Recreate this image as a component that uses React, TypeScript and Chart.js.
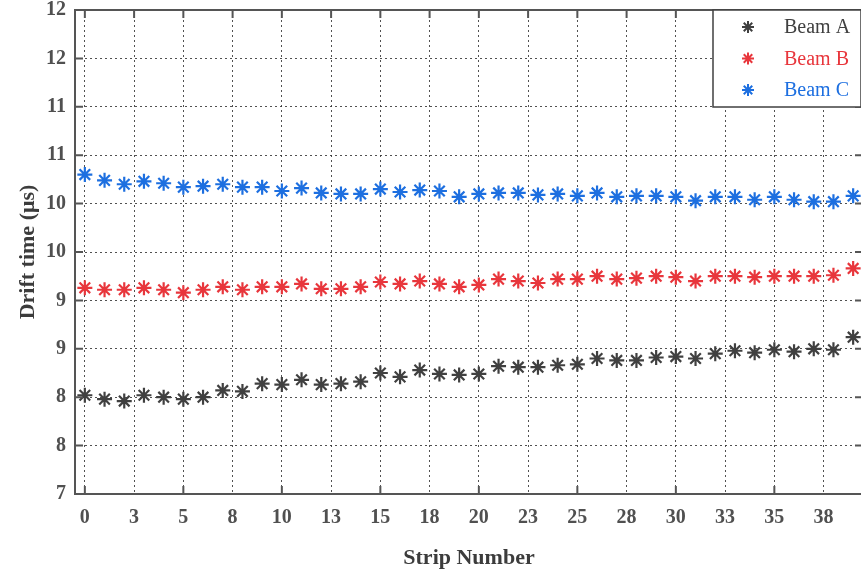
import React, { useEffect, useRef } from 'react';
import { Chart, registerables } from 'chart.js';

Chart.register(...registerables);

const strips = [0, 1, 2, 3, 4, 5, 6, 7, 8, 9, 10, 11, 12, 13, 14, 15, 16, 17, 18, 19, 20, 21, 22, 23, 24, 25, 26, 27, 28, 29, 30, 31, 32, 33, 34, 35, 36, 37, 38, 39];

const beamA = [8.02, 7.98, 7.96, 8.02, 8.0, 7.98, 8.0, 8.07, 8.06, 8.14, 8.13, 8.18, 8.13, 8.14, 8.16, 8.25, 8.21, 8.28, 8.24, 8.23, 8.24, 8.32, 8.31, 8.31, 8.33, 8.34, 8.4, 8.38, 8.38, 8.41, 8.42, 8.4, 8.45, 8.48, 8.46, 8.49, 8.47, 8.5, 8.49, 8.62];
const beamB = [9.13, 9.11, 9.11, 9.13, 9.11, 9.08, 9.11, 9.14, 9.11, 9.14, 9.14, 9.17, 9.12, 9.12, 9.14, 9.19, 9.17, 9.2, 9.17, 9.14, 9.16, 9.22, 9.2, 9.18, 9.22, 9.22, 9.25, 9.22, 9.23, 9.25, 9.24, 9.2, 9.25, 9.25, 9.24, 9.25, 9.25, 9.25, 9.26, 9.33];
const beamC = [10.3, 10.24, 10.2, 10.23, 10.21, 10.17, 10.18, 10.2, 10.17, 10.17, 10.13, 10.16, 10.11, 10.1, 10.1, 10.15, 10.12, 10.14, 10.13, 10.07, 10.1, 10.11, 10.11, 10.09, 10.1, 10.08, 10.11, 10.07, 10.08, 10.08, 10.07, 10.03, 10.07, 10.07, 10.04, 10.07, 10.04, 10.02, 10.02, 10.08];

const seriesNames = ['Beam A', 'Beam B', 'Beam C'];
const seriesColors = ['#404040', '#e8363c', '#1d6fe0'];

const xTickValues = [0, 2.5, 5, 7.5, 10, 12.5, 15, 17.5, 20, 22.5, 25, 27.5, 30, 32.5, 35, 37.5];
const xTickLabels = ['0', '3', '5', '8', '10', '13', '15', '18', '20', '23', '25', '28', '30', '33', '35', '38'];
const yTickValues = [7, 7.5, 8, 8.5, 9, 9.5, 10, 10.5, 11, 11.5, 12];
const yTickLabels = ['7', '8', '8', '9', '9', '10', '10', '11', '11', '12', '12'];

const xTitle = 'Strip Number';
const yTitle = 'Drift time (\u03bcs)';

const FONT = '"Liberation Serif", "Times New Roman", serif';

function drawStar(ctx: CanvasRenderingContext2D, x: number, y: number, r: number) {
  const d = r * Math.SQRT1_2;
  ctx.beginPath();
  ctx.moveTo(x - r, y); ctx.lineTo(x + r, y);
  ctx.moveTo(x, y - r); ctx.lineTo(x, y + r);
  ctx.moveTo(x - d, y - d); ctx.lineTo(x + d, y + d);
  ctx.moveTo(x - d, y + d); ctx.lineTo(x + d, y - d);
  ctx.stroke();
}

const framePlugin = {
  id: 'frameAndLegend',
  afterDraw(chart: any) {
    const ctx: CanvasRenderingContext2D = chart.ctx;
    const { left, right, top, bottom } = chart.chartArea;
    const xs = chart.scales.x;
    const ys = chart.scales.y;
    ctx.save();
    ctx.strokeStyle = '#555555';
    ctx.lineWidth = 2;
    ctx.beginPath();
    xTickValues.forEach((v) => {
      const px = xs.getPixelForValue(v);
      ctx.moveTo(px, top);
      ctx.lineTo(px, top + 8);
      if (v % 5 === 0) {
        ctx.moveTo(px, bottom);
        ctx.lineTo(px, bottom - 8);
      }
    });
    yTickValues.forEach((v) => {
      const py = ys.getPixelForValue(v);
      ctx.moveTo(left, py);
      ctx.lineTo(left + 8, py);
      ctx.moveTo(right, py);
      ctx.lineTo(right - 8, py);
    });
    ctx.stroke();
    ctx.strokeRect(left, top, right - left, bottom - top);

    // legend
    const bw = 148;
    const bx = right - 2 - bw;
    const by = top;
    const bh = 97;
    ctx.fillStyle = '#ffffff';
    ctx.fillRect(bx, by, bw, bh);
    ctx.strokeStyle = '#404040';
    ctx.lineWidth = 1.5;
    ctx.strokeRect(bx, by, bw, bh);
    ctx.font = '20px ' + FONT;
    ctx.textBaseline = 'middle';
    ctx.textAlign = 'left';
    seriesNames.forEach((name, i) => {
      const ry = by + 17 + i * 31.5;
      ctx.strokeStyle = seriesColors[i];
      ctx.lineWidth = 2;
      drawStar(ctx, bx + 35, ry, 6);
      ctx.fillStyle = seriesColors[i];
      ctx.fillText(name, bx + 71, ry + 1);
    });
    ctx.restore();
  },
};

export default function App() {
  const canvasRef = useRef<HTMLCanvasElement | null>(null);

  useEffect(() => {
    if (!canvasRef.current) return;
    const series = [beamA, beamB, beamC];
    const chart = new Chart(canvasRef.current, {
      type: 'scatter',
      data: {
        datasets: series.map((vals, i) => ({
          label: seriesNames[i],
          data: strips.map((s, j) => ({ x: s, y: vals[j] })),
          pointStyle: 'star',
          pointRadius: 7.5,
          pointHoverRadius: 7.5,
          pointBorderWidth: 2.2,
          borderWidth: 2.2,
          borderColor: seriesColors[i],
          backgroundColor: seriesColors[i],
          showLine: false,
        })),
      },
      options: {
        animation: false,
        responsive: true,
        maintainAspectRatio: false,
        layout: { padding: { top: 10, right: 17, left: 0, bottom: 0 } },
        plugins: {
          legend: { display: false },
          tooltip: { enabled: false },
        },
        scales: {
          x: {
            type: 'linear',
            min: -0.5,
            max: 39.5,
            afterBuildTicks: (scale: any) => {
              scale.ticks = xTickValues.map((v) => ({ value: v }));
            },
            afterFit: (scale: any) => {
              scale.height = 75;
              scale.paddingLeft = 0;
              scale.paddingRight = 0;
            },
            ticks: {
              callback: (_v: any, idx: number) => xTickLabels[idx],
              font: { family: FONT, size: 20, weight: 'bold' },
              color: '#505050',
              padding: 12,
              maxRotation: 0,
              autoSkip: false,
            },
            grid: {
              drawTicks: false,
              color: 'rgba(50,50,50,0.85)',
              lineWidth: 1,
            },
            border: { display: false, dash: [2, 3] },
            title: {
              display: true,
              text: xTitle,
              font: { family: FONT, size: 22, weight: 'bold', lineHeight: 1 },
              color: '#3c3c3c',
              padding: { top: 0, bottom: 0 },
            },
          },
          y: {
            type: 'linear',
            min: 7,
            max: 12,
            afterBuildTicks: (scale: any) => {
              scale.ticks = yTickValues.map((v) => ({ value: v }));
            },
            afterFit: (scale: any) => {
              scale.width = 75;
              scale.paddingTop = 0;
              scale.paddingBottom = 0;
            },
            ticks: {
              callback: (_v: any, idx: number) => yTickLabels[idx],
              font: { family: FONT, size: 20, weight: 'bold', lineHeight: 1 },
              color: '#505050',
              padding: 9,
              autoSkip: false,
            },
            grid: {
              drawTicks: false,
              color: 'rgba(50,50,50,0.85)',
              lineWidth: 1,
            },
            border: { display: false, dash: [2, 3] },
            title: {
              display: true,
              text: yTitle,
              font: { family: FONT, size: 22, weight: 'bold', lineHeight: 1 },
              color: '#3c3c3c',
              padding: { top: 17, bottom: 0 },
            },
          },
        },
      },
      plugins: [framePlugin],
    } as any);
    return () => chart.destroy();
  }, []);

  return (
    <div style={{ position: 'fixed', left: 0, top: 0, width: 861, height: 569, overflow: 'hidden', background: '#fff' }}>
      <div style={{ position: 'relative', width: 880, height: 569 }}>
        <canvas ref={canvasRef} />
      </div>
    </div>
  );
}
